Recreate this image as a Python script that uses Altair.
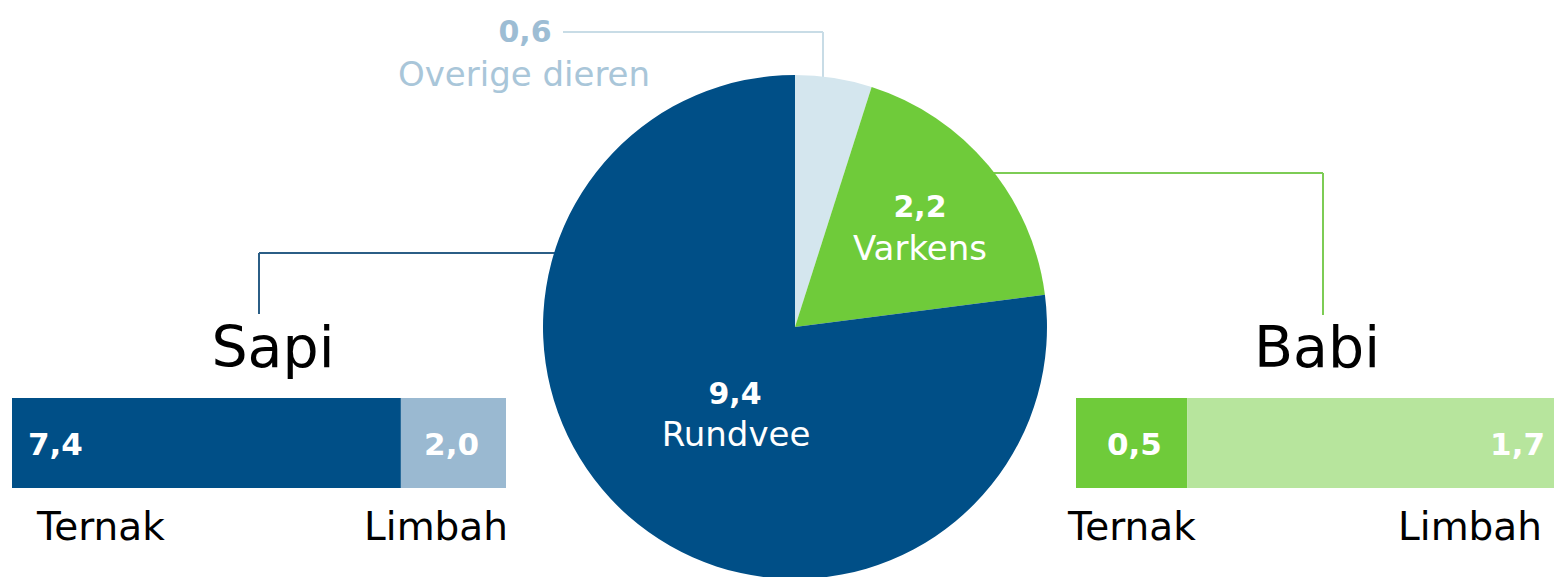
import altair as alt
import pandas as pd

# ---- data ----
pie_labels = ["Overige dieren", "Varkens", "Rundvee"]
pie_values = [0.6, 2.2, 9.4]
pie_colors = ["#d4e6ee", "#6fcb3a", "#004f87"]

sapi_parts = ["Ternak", "Limbah"]
sapi_values = [7.4, 2.0]
sapi_colors = ["#004f87", "#9ab9d1"]

babi_parts = ["Ternak", "Limbah"]
babi_values = [0.5, 1.7]
babi_colors = ["#6fcb3a", "#b7e59d"]

group_titles = ["Sapi", "Babi"]


def fmt(v):
    return f"{v:.1f}".replace(".", ",")


OX, OY = 8, 8
W, H = 1546, 569
FONT = "DejaVu Sans"

base = alt.Chart(alt.Data(values=[{"k": 0}]))


def label(text, x, y, size, color, bold=False, align="center"):
    return base.mark_text(
        text=text, fontSize=size, font=FONT,
        fontWeight="bold" if bold else "normal",
        color=color, align=align, baseline="alphabetic",
    ).encode(x=alt.value(x - OX), y=alt.value(y - OY))


def seg(x1, y1, x2, y2, color):
    return base.mark_rule(color=color, strokeWidth=2).encode(
        x=alt.value(x1 - OX), y=alt.value(y1 - OY),
        x2=alt.value(x2 - OX), y2=alt.value(y2 - OY),
    )


# ---- connector lines ----
lines = [
    seg(563, 32, 823, 32, "#c8dce6"),
    seg(823, 32, 823, 90, "#c8dce6"),
    seg(259, 253, 570, 253, "#2b5e86"),
    seg(259, 253, 259, 314, "#2b5e86"),
    seg(980, 173, 1323, 173, "#7dcc55"),
    seg(1323, 173, 1323, 315, "#7dcc55"),
]

# ---- pie ----
pie_df = pd.DataFrame({"cat": pie_labels, "value": pie_values,
                       "ord": list(range(len(pie_labels))), "col": pie_colors})
pie = alt.Chart(pie_df).mark_arc(radius=252).encode(
    theta=alt.Theta("value:Q", stack=True),
    color=alt.Color("col:N", scale=None),
    order=alt.Order("ord:Q"),
    x=alt.value(795 - OX), y=alt.value(327 - OY),
)


# ---- stacked bars ----
def bar(parts, values, colors, x0, x1, y0, y1):
    df = pd.DataFrame({"part": parts, "value": values,
                       "ord": list(range(len(parts))), "col": colors})
    return alt.Chart(df).transform_stack(
        stack="value", groupby=[], as_=["v0", "v1"],
        sort=[alt.SortField("ord", order="ascending")],
    ).mark_bar().encode(
        x=alt.X("v0:Q", axis=None,
                scale=alt.Scale(domain=[0, sum(values)], range=[x0 - OX, x1 - OX],
                                nice=False, zero=True)),
        x2="v1:Q",
        y=alt.value(y0 - OY), y2=alt.value(y1 - OY),
        color=alt.Color("col:N", scale=None),
    )


sapi = bar(sapi_parts, sapi_values, sapi_colors, 12, 506, 398, 488)
babi = bar(babi_parts, babi_values, babi_colors, 1076, 1565, 398, 488)

# ---- text ----
texts = [
    label(fmt(pie_values[0]), 525, 42, 30, "#9dbdd4", bold=True),
    label(pie_labels[0], 524, 86, 34, "#a9c6d9"),
    label(fmt(pie_values[1]), 920, 217, 30, "white", bold=True),
    label(pie_labels[1], 920, 260, 34, "white"),
    label(fmt(pie_values[2]), 735, 404, 30, "white", bold=True),
    label(pie_labels[2], 736, 446, 34, "white"),
    label(group_titles[0], 273, 367, 57, "black"),
    label(group_titles[1], 1317, 367, 57, "black"),
    label(fmt(sapi_values[0]), 28, 455, 31, "white", bold=True, align="left"),
    label(fmt(sapi_values[1]), 479, 455, 31, "white", bold=True, align="right"),
    label(fmt(babi_values[0]), 1107, 455, 31, "white", bold=True, align="left"),
    label(fmt(babi_values[1]), 1545, 455, 31, "white", bold=True, align="right"),
    label(sapi_parts[0], 37, 540, 39, "black", align="left"),
    label(sapi_parts[1], 508, 540, 39, "black", align="right"),
    label(babi_parts[0], 1068, 540, 39, "black", align="left"),
    label(babi_parts[1], 1542, 540, 39, "black", align="right"),
]

chart = alt.layer(*lines, pie, sapi, babi, *texts).resolve_scale(
    x="independent", theta="independent"
).properties(
    width=W, height=H, padding=0, autosize="none", background="white"
).configure_view(stroke=None)

chart.save("out.html", embed_options={"renderer": "svg", "actions": False})
